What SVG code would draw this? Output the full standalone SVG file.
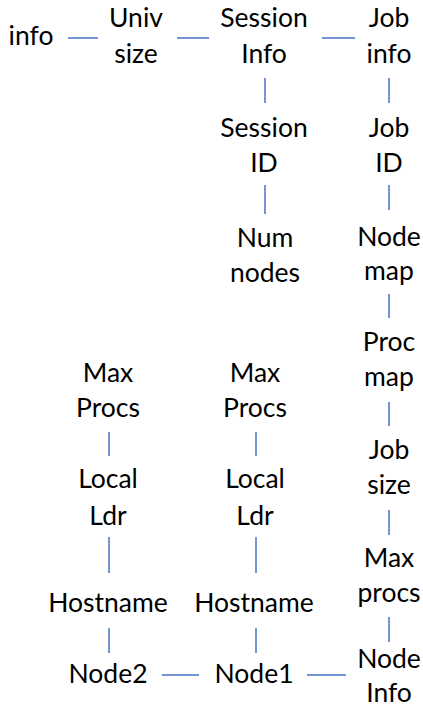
<svg xmlns="http://www.w3.org/2000/svg" width="423" height="706" viewBox="0 0 423 706">
<style>
text{font-family:Lato,"Open Sans","Liberation Sans",sans-serif;font-size:26.5px;fill:#000;text-anchor:middle}
.c line{stroke:#4472C4;stroke-width:1.5}
</style>
<rect width="423" height="706" fill="#fff"/>
<g class="c" id="connectors">
<line x1="68" y1="38" x2="98" y2="38"/>
<line x1="177" y1="38" x2="209" y2="38"/>
<line x1="322" y1="38" x2="355" y2="38"/>
<line x1="265" y1="78" x2="265" y2="103"/>
<line x1="265" y1="185" x2="265" y2="214"/>
<line x1="389" y1="78" x2="389" y2="103"/>
<line x1="389" y1="185" x2="389" y2="210"/>
<line x1="389" y1="294" x2="389" y2="318"/>
<line x1="389" y1="402" x2="389" y2="426"/>
<line x1="389" y1="510" x2="389" y2="535"/>
<line x1="389" y1="617" x2="389" y2="642"/>
<line x1="109" y1="432" x2="109" y2="456"/>
<line x1="109" y1="537" x2="109" y2="573"/>
<line x1="109" y1="628" x2="109" y2="653"/>
<line x1="256" y1="432" x2="256" y2="456"/>
<line x1="256" y1="537" x2="256" y2="573"/>
<line x1="256" y1="628" x2="256" y2="653"/>
<line x1="162" y1="675" x2="199" y2="675"/>
<line x1="307" y1="675" x2="346" y2="675"/>
</g>
<g id="info"><text x="31" y="45">info</text></g>
<g id="univsize"><text x="136" y="27">Univ</text><text x="136" y="63">size</text></g>
<g id="sessioninfo"><text x="264" y="27">Session</text><text x="264" y="63">Info</text></g>
<g id="jobinfo"><text x="389" y="27">Job</text><text x="389" y="63">info</text></g>
<g id="sessionid"><text x="264" y="137">Session</text><text x="264" y="172">ID</text></g>
<g id="jobid"><text x="389" y="137">Job</text><text x="389" y="172">ID</text></g>
<g id="numnodes"><text x="265" y="247">Num</text><text x="265" y="282">nodes</text></g>
<g id="nodemap"><text x="389" y="246">Node</text><text x="389" y="280">map</text></g>
<g id="procmap"><text x="389" y="351">Proc</text><text x="389" y="386">map</text></g>
<g id="maxprocs2"><text x="108" y="382">Max</text><text x="108" y="417">Procs</text></g>
<g id="maxprocs1"><text x="255" y="382">Max</text><text x="255" y="417">Procs</text></g>
<g id="jobsize"><text x="389" y="459">Job</text><text x="389" y="494">size</text></g>
<g id="localldr2"><text x="108" y="488">Local</text><text x="108" y="525">Ldr</text></g>
<g id="localldr1"><text x="255" y="488">Local</text><text x="255" y="525">Ldr</text></g>
<g id="maxprocsr"><text x="389" y="567">Max</text><text x="389" y="602">procs</text></g>
<g id="hostname2"><text x="108" y="612">Hostname</text></g>
<g id="hostname1"><text x="254" y="612">Hostname</text></g>
<g id="node2"><text x="108" y="683">Node2</text></g>
<g id="node1"><text x="254" y="683">Node1</text></g>
<g id="nodeinfo"><text x="389" y="668">Node</text><text x="389" y="702">Info</text></g>
</svg>
